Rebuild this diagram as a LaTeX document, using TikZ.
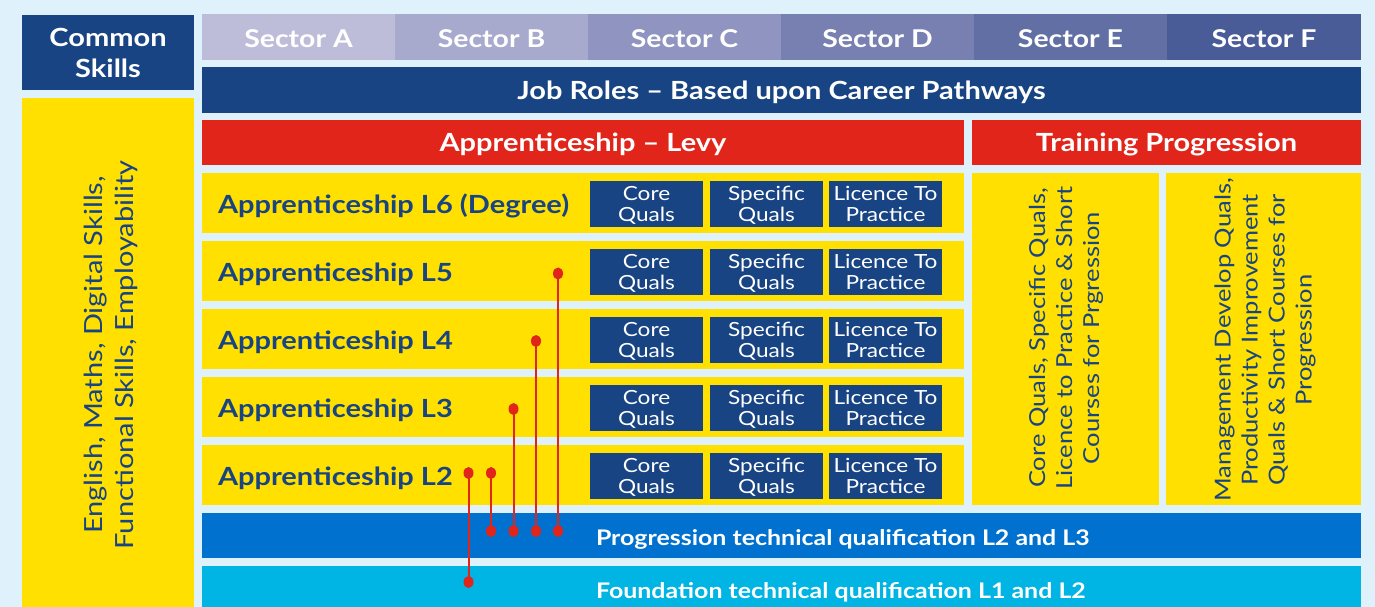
\documentclass[tikz,border=0pt]{standalone}
\usepackage{fontspec}
\setmainfont{Lato}[FakeStretch=1.16]
\newcommand{\fsz}[2]{\fontsize{#1}{#2}\selectfont}
\definecolor{bgc}{HTML}{DFF1FB}
\definecolor{navy}{HTML}{184483}
\definecolor{yel}{HTML}{FFE000}
\definecolor{redc}{HTML}{E1251B}
\definecolor{progc}{HTML}{0071CE}
\definecolor{foundc}{HTML}{00B4E4}
\definecolor{secA}{HTML}{BDBDDA}
\definecolor{secB}{HTML}{A7A9CD}
\definecolor{secC}{HTML}{9094C0}
\definecolor{secD}{HTML}{7880B1}
\definecolor{secE}{HTML}{616FA5}
\definecolor{secF}{HTML}{4A5C98}
\tikzset{
  blk/.style={rectangle, inner sep=0pt, outer sep=0pt},
  sector/.style={blk, minimum height=46pt, text height=21.6pt, text depth=0pt, text=white, font=\fsz{24.5}{28}\bfseries},
  header/.style={blk, text depth=0pt, text=white, font=\fsz{25}{30}\bfseries},
  rowbox/.style={blk, fill=yel, minimum width=762pt, minimum height=60pt},
  rowlabel/.style={blk, anchor=west, text=navy, font=\fsz{25}{30}\bfseries},
  qual/.style={blk, fill=navy, text=white, text depth=0pt, minimum width=113pt, minimum height=46pt, align=center, font=\fsz{19.5}{21}},
  vtext/.style={blk, rotate=90, text=navy, align=center},
  redline/.style={draw=redc, line width=2pt},
  reddot/.style={fill=redc},
}
\begin{document}
\begin{tikzpicture}[x=1pt,y=-1pt]
\fill[bgc] (0,0) rectangle (1375,607);
\useasboundingbox (0,0) rectangle (1375,607);
% common skills
\node[blk, fill=navy, minimum width=172pt, minimum height=75pt, text=white, text depth=0pt, align=center, font=\fsz{25}{31}\bfseries] (common) at (108,53) {Common\\Skills};
\node[blk, fill=yel, minimum width=172pt, minimum height=509pt] (skills) at (108,352.5) {};
\node[vtext, font=\fsz{25}{31}] (skillstext) at (111,355) {English, Maths, Digital Skills,\\Functional Skills, Employability};
% sectors
\node[sector, fill=secA, minimum width=193pt] (sA) at (298.5,37) {Sector A};
\node[sector, fill=secB, minimum width=193pt] (sB) at (491.5,37) {Sector B};
\node[sector, fill=secC, minimum width=193pt] (sC) at (684.5,37) {Sector C};
\node[sector, fill=secD, minimum width=193pt] (sD) at (877.5,37) {Sector D};
\node[sector, fill=secE, minimum width=193pt] (sE) at (1070.5,37) {Sector E};
\node[sector, fill=secF, minimum width=194pt] (sF) at (1264,37) {Sector F};
% job roles
\node[header, fill=navy, minimum width=1159pt, minimum height=46pt] (jobs) at (781.5,90) {Job Roles -- Based upon Career Pathways};
% red headers
\node[header, fill=redc, minimum width=762pt, minimum height=45pt] (levy) at (583,142.5) {Apprenticeship -- Levy};
\node[header, fill=redc, minimum width=389pt, minimum height=45pt] (train) at (1166.5,142.5) {Training Progression};
% rows
\foreach \i/\lab in {0/Apprenticeship L6 (Degree),1/Apprenticeship L5,2/Apprenticeship L4,3/Apprenticeship L3,4/Apprenticeship L2}{
  \pgfmathsetmacro{\cy}{203+68*\i}
  \node[rowbox] (row\i) at (583,\cy) {};
  \node[rowlabel] (rowlab\i) at (218,\cy+3) {\lab};
  \node[qual] (core\i) at (646.5,\cy+1) {Core\\Quals};
  \node[qual] (spec\i) at (766.5,\cy+1) {Specific\\Quals};
  \node[qual] (lic\i) at (885.5,\cy+1) {Licence To\\Practice};
}
% right panels
\node[blk, fill=yel, minimum width=187pt, minimum height=332pt] (rp1) at (1065.5,339) {};
\node[vtext, font=\fsz{22}{27}] (rp1text) at (1066,338) {Core Quals, Specific Quals,\\Licence to Practice \& Short\\Courses for Prgression};
\node[blk, fill=yel, minimum width=195pt, minimum height=332pt] (rp2) at (1263.5,339) {};
\node[vtext, font=\fsz{22}{27}] (rp2text) at (1265,340) {Management Develop Quals,\\Productivity Improvement\\Quals \& Short Courses for\\Progression};
% bottom bars
\node[blk, fill=progc, minimum width=1159pt, minimum height=45pt] (prog) at (781.5,535.5) {};
\node[blk, anchor=west, text=white, font=\fsz{21.5}{26}\bfseries] (progtext) at (596,539) {Progression technical qualification L2 and L3};
\node[blk, fill=foundc, minimum width=1159pt, minimum height=46pt] (found) at (781.5,589) {};
\node[blk, anchor=west, text=white, font=\fsz{21.5}{26}\bfseries] (foundtext) at (596,592) {Foundation technical qualification L1 and L2};
% red connectors
\coordinate (a1) at (468.5,473); \coordinate (b1) at (468.5,582);
\coordinate (a2) at (491,473);   \coordinate (b2) at (491,531);
\coordinate (a3) at (513.5,409); \coordinate (b3) at (513.5,531);
\coordinate (a4) at (536,341);   \coordinate (b4) at (536,531);
\coordinate (a5) at (558,273.5); \coordinate (b5) at (558,531);
\foreach \k in {1,...,5}{
  \draw[redline] (a\k) -- (b\k);
  \fill[reddot] (a\k) ellipse (5pt and 6pt);
  \fill[reddot] (b\k) ellipse (5pt and 6pt);
}
\end{tikzpicture}
\end{document}
